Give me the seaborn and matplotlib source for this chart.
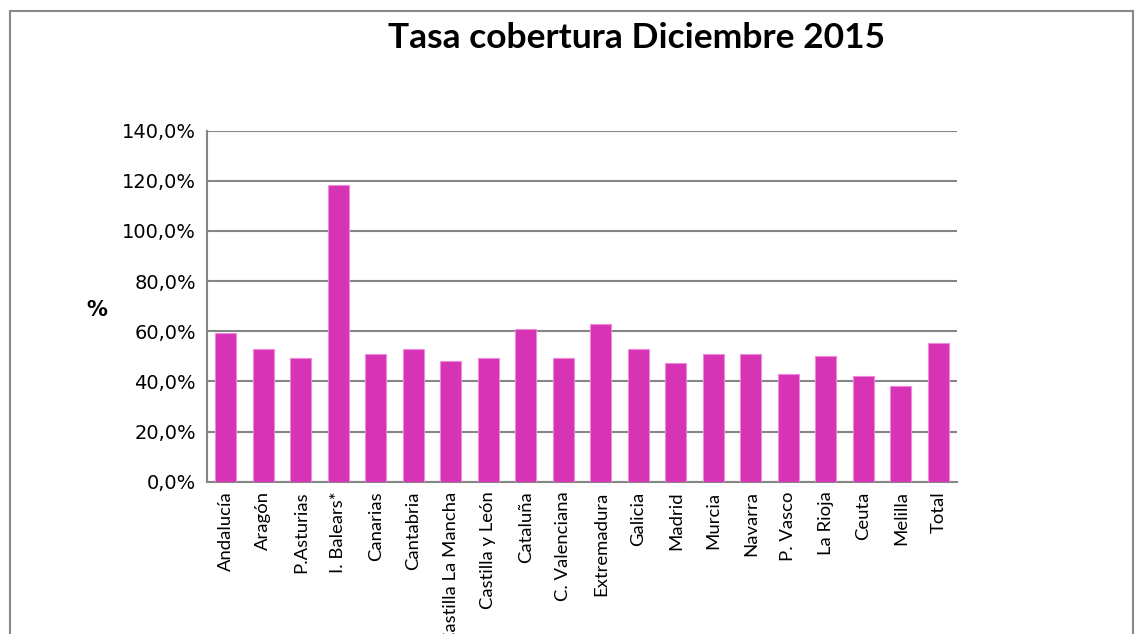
import numpy as np
import pandas as pd
import matplotlib.pyplot as plt
import seaborn as sns
from matplotlib.patches import Rectangle
from matplotlib.ticker import FuncFormatter, FixedLocator

regiones = ['Andalucía', 'Aragón', 'P.Asturias', 'I. Balears*', 'Canarias', 'Cantabria',
            'Castilla La Mancha', 'Castilla y León', 'Cataluña', 'C. Valenciana',
            'Extremadura', 'Galicia', 'Madrid', 'Murcia', 'Navarra', 'P. Vasco',
            'La Rioja', 'Ceuta', 'Melilla', 'Total']
tasa = [59.4, 52.9, 49.5, 118.2, 50.8, 52.9, 48.0, 49.5, 60.8, 49.5,
        62.9, 52.9, 47.3, 50.9, 50.9, 43.1, 50.1, 42.3, 38.0, 55.2]

df = pd.DataFrame({'region': regiones, 'tasa': tasa})

sns.set_style('white')
plt.rcParams['text.color'] = 'black'
plt.rcParams['xtick.color'] = 'black'
plt.rcParams['ytick.color'] = 'black'

fig = plt.figure(figsize=(11.35, 6.34), dpi=100)
ax = fig.add_axes([0.1824, 0.2402, 0.8432 - 0.1824, 0.7939 - 0.2402])

sns.barplot(data=df, x='region', y='tasa', color='#D633B5', saturation=1,
            width=0.56, edgecolor='#EE8AD8', linewidth=0.8, ax=ax, zorder=3)

grid_col = '#868686'
ax.set_ylim(0, 140)
ax.set_xlim(-0.5, len(regiones) - 0.5)
ax.set_yticks(np.arange(0, 141, 20))
ax.yaxis.set_major_formatter(FuncFormatter(lambda v, p: f'{v:.1f}%'.replace('.', ',')))
ax.yaxis.grid(True, color=grid_col, linewidth=1.5, zorder=0)
ax.set_axisbelow(True)

for s in ['top', 'right']:
    ax.spines[s].set_visible(False)
for s in ['left', 'bottom']:
    ax.spines[s].set_color(grid_col)
    ax.spines[s].set_linewidth(1.5)

ax.tick_params(axis='y', which='major', direction='out', length=5, color=grid_col,
               width=1.5, labelsize=14, pad=3, labelcolor='black')
ax.tick_params(axis='x', which='major', length=0, pad=7, labelcolor='black')
ax.xaxis.set_minor_locator(FixedLocator(np.arange(-0.5, len(regiones), 1)))
ax.tick_params(axis='x', which='minor', direction='out', length=5, color=grid_col, width=1.5)

for lab in ax.get_yticklabels():
    lab.set_family('DejaVu Sans')
ax.set_xticks(range(len(regiones)))
ax.set_xticklabels(regiones, rotation=90, fontsize=13.3, family='Lato', va='top')

ax.set_xlabel('')
ax.set_ylabel('')
fig.text(97 / 1135, 1 - 310 / 634, '%', fontsize=15, fontweight='bold',
         family='DejaVu Sans', ha='center', va='center')

fig.text(637 / 1135, 1 - 38 / 634, 'Tasa cobertura Diciembre 2015', fontsize=25.5,
         fontweight='bold', family='Lato', ha='center', va='center')

fig.patches.append(Rectangle((10 / 1135, -0.1), (1133 - 10) / 1135, 1.1 - 11 / 634,
                             transform=fig.transFigure, fill=False,
                             edgecolor='#888888', linewidth=1.5))

fig.savefig('out.png', dpi=100)
